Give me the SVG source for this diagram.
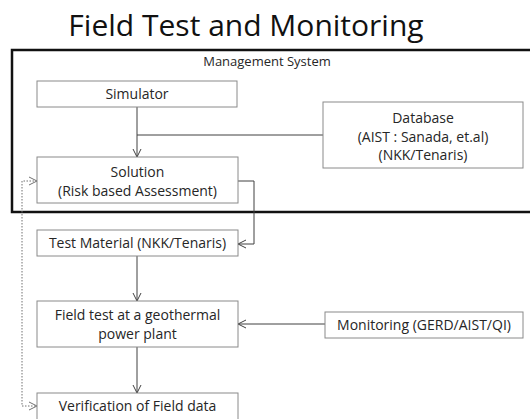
<svg xmlns="http://www.w3.org/2000/svg" width="530" height="419" viewBox="0 0 530 419">
<style>
.box{fill:#fff;stroke:#8a8a8a;stroke-width:1}
.t{font-family:"Open Sans","Liberation Sans",Arial,sans-serif;font-size:14px;fill:#262626;text-anchor:middle}
.c{fill:none;stroke:#404040;stroke-width:1}
.d{fill:none;stroke:#707070;stroke-width:1;stroke-dasharray:1.5,1.5}
</style>
<defs>
<marker id="a" markerUnits="userSpaceOnUse" markerWidth="10" markerHeight="10" refX="8" refY="4" orient="auto-start-reverse" viewBox="0 0 10 8">
<path d="M0,0 L8,4 L0,8" fill="none" stroke="#404040" stroke-width="1"/>
</marker>
<marker id="ad" markerUnits="userSpaceOnUse" markerWidth="10" markerHeight="10" refX="8" refY="4" orient="auto-start-reverse" viewBox="0 0 10 8">
<path d="M0,0 L8,4 L0,8" fill="none" stroke="#707070" stroke-width="1"/>
</marker>
</defs>
<rect width="530" height="419" fill="#fff"/>
<text x="246" y="36" font-family="'Open Sans','Liberation Sans',Arial,sans-serif" font-size="30" fill="#111" text-anchor="middle">Field Test and Monitoring</text>
<g id="management-system">
<rect x="12" y="50" width="522" height="162" fill="none" stroke="#111" stroke-width="2.5"/>
<text class="t" x="267" y="66" style="font-size:13px">Management System</text>
</g>
<g id="connectors">
<path class="c" d="M137,107 V157" marker-end="url(#a)"/>
<path class="c" d="M323,135 H137"/>
<path class="c" d="M238,181 H254 V244 H238" marker-end="url(#a)"/>
<path class="c" d="M137,256 V301" marker-end="url(#a)"/>
<path class="c" d="M325,324 H238" marker-end="url(#a)"/>
<path class="c" d="M137,347 V393" marker-end="url(#a)"/>
<path class="d" d="M37,181 H22 V406 H37" marker-start="url(#ad)" marker-end="url(#ad)"/>
</g>
<g id="simulator">
<rect class="box" x="37" y="81" width="200" height="26"/>
<text class="t" x="137" y="99">Simulator</text>
</g>
<g id="database">
<rect class="box" x="323" y="102" width="200" height="66"/>
<text class="t" x="423" y="123">Database</text>
<text class="t" x="423" y="142">(AIST : Sanada, et.al)</text>
<text class="t" x="423" y="160">(NKK/Tenaris)</text>
</g>
<g id="solution">
<rect class="box" x="37" y="157" width="201" height="46"/>
<text class="t" x="137.5" y="177">Solution</text>
<text class="t" x="137.5" y="196">(Risk based Assessment)</text>
</g>
<g id="test-material">
<rect class="box" x="37" y="230" width="201" height="26"/>
<text class="t" x="137.5" y="248">Test Material (NKK/Tenaris)</text>
</g>
<g id="field-test">
<rect class="box" x="37" y="301" width="201" height="46"/>
<text class="t" x="137.5" y="320">Field test at a geothermal</text>
<text class="t" x="137.5" y="339">power plant</text>
</g>
<g id="monitoring">
<rect class="box" x="325" y="312" width="198" height="26"/>
<text class="t" x="424" y="330">Monitoring (GERD/AIST/QI)</text>
</g>
<g id="verification">
<rect class="box" x="37" y="393" width="201" height="30"/>
<text class="t" x="137.5" y="411">Verification of Field data</text>
</g>
</svg>
